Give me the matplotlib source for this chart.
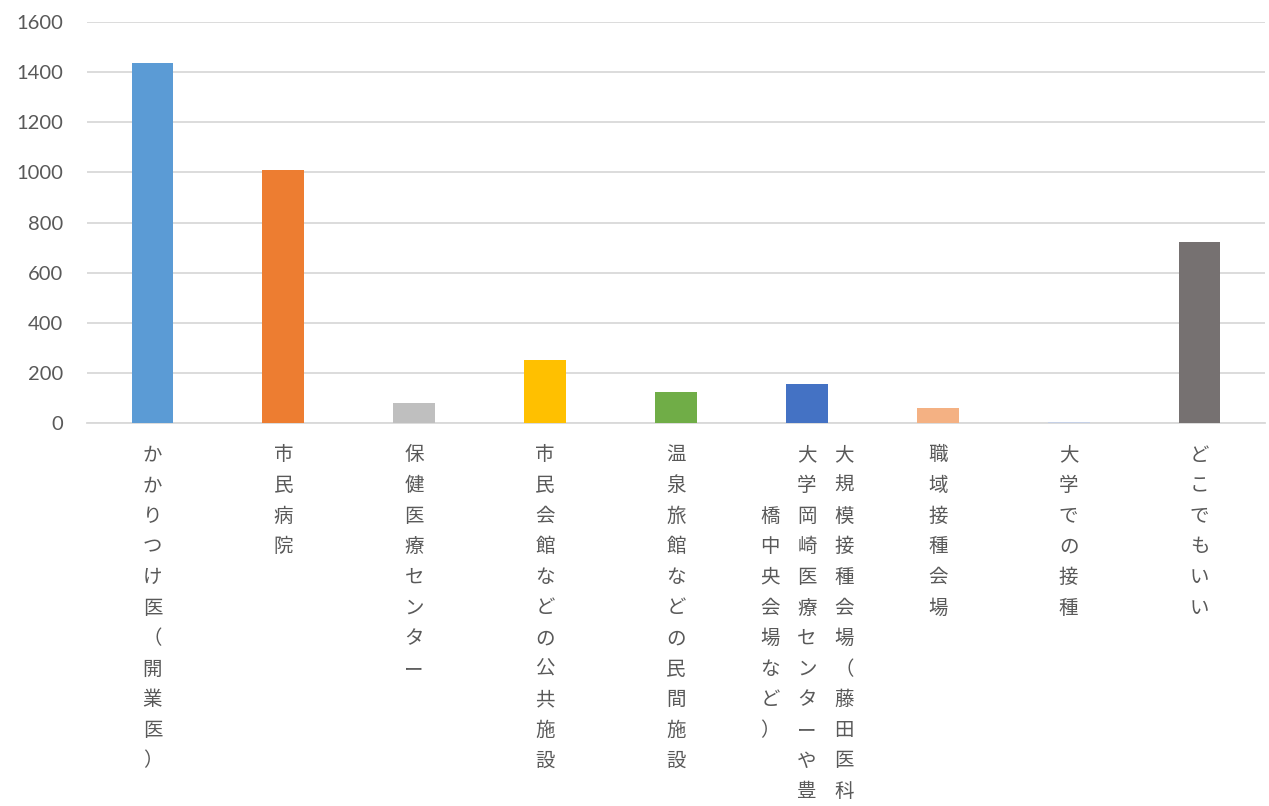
import matplotlib.pyplot as plt

plt.rcParams['font.family'] = ['Noto Sans CJK JP', 'DejaVu Sans']

# データ
categories = [
    ['かかりつけ医（開業医）'],
    ['市民病院'],
    ['保健医療センター'],
    ['市民会館などの公共施設'],
    ['温泉旅館などの民間施設'],
    ['大規模接種会場（藤田医科', '大学岡崎医療センターや豊', '橋中央会場など）'],
    ['職域接種会場'],
    ['大学での接種'],
    ['どこでもいい'],
]
values = [1436, 1010, 80, 251, 124, 156, 60, 3, 722]
colors = ['#5B9BD5', '#ED7D31', '#BFBFBF', '#FFC000', '#70AD47',
          '#4472C4', '#F4B183', '#C5D0E6', '#767171']
yticks = [0, 200, 400, 600, 800, 1000, 1200, 1400, 1600]

fig = plt.figure(figsize=(12.69, 8.06), dpi=100)
ax = fig.add_axes([87 / 1269, 1 - 423 / 806, (1265 - 87) / 1269, (423 - 22) / 806])

x = list(range(len(values)))
ax.bar(x, values, width=0.32, color=colors, zorder=3)

ax.set_xlim(-0.5, len(values) - 0.5)
ax.set_ylim(0, 1600)
ax.set_yticks(yticks)
ax.set_yticklabels([str(v) for v in yticks], fontsize=14.5, color='#595959',
                   family=['Lato', 'DejaVu Sans'])
ax.tick_params(axis='y', length=0, pad=17)
ax.set_xticks([])
ax.grid(axis='y', color='#D9D9D9', linewidth=1.3, zorder=0)
for s in ['top', 'right', 'left']:
    ax.spines[s].set_visible(False)
ax.spines['bottom'].set_color('#D9D9D9')
ax.spines['bottom'].set_linewidth(1.3)

# 縦書きラベル（右から左へ列を並べる）
row_h = 30.6
col_w = 37
for i, cols in enumerate(categories):
    n = len(cols)
    maxlen = max(len(c) for c in cols)
    for j, col in enumerate(cols):
        dx = ((n - 1) / 2 - j) * col_w
        start = (maxlen - len(col)) / 2
        for k, ch in enumerate(col):
            ax.annotate(ch, xy=(i, 0), xycoords=('data', 'axes fraction'),
                        xytext=(dx, -32 - (start + k) * row_h),
                        textcoords='offset pixels',
                        ha='center', va='center', fontsize=14,
                        color='#595959', annotation_clip=False)

fig.savefig('out.png', dpi=100)
